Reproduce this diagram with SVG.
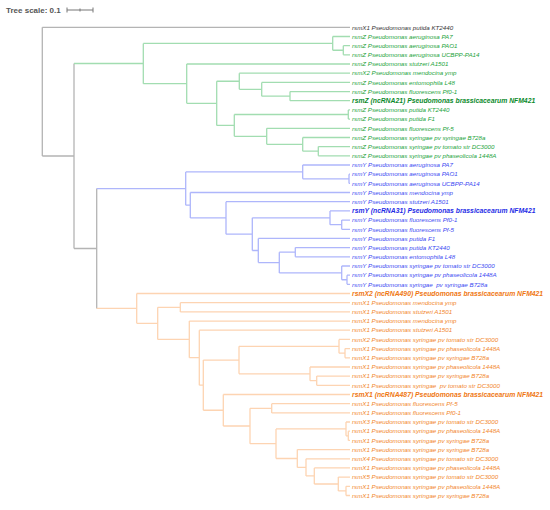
<svg xmlns="http://www.w3.org/2000/svg" width="550" height="510" viewBox="0 0 550 510">
<style>
text{font-family:"Liberation Sans",Arial,sans-serif;font-style:italic;font-size:6.2px}
.b{font-weight:bold;font-size:6.8px}
.k{fill:#333}.g{fill:#22a33a}.gb{fill:#0b8a2b}.u{fill:#3b49f2}.ub{fill:#1f2de6}.o{fill:#f2862a}.ob{fill:#ef7712}
.lk{stroke:#b4b4b4}.lg{stroke:#a2ddb1}.lu{stroke:#aeb6fb}.lo{stroke:#fdd4b2}
path{fill:none;stroke-width:1.3}
#scale text{font-style:normal;font-weight:bold;font-size:8px;fill:#555}
</style>
<rect width="550" height="510" fill="#fff"/>
<g id="scale">
<text x="6" y="13">Tree scale: 0.1</text>
<path d="M67,10H93M67,7.5V12.5M80,8.5V11.5M93,7.5V12.5" style="stroke:#777;stroke-width:1"/>
</g>
<g id="connectors">
<path class="lk" d="M42.3,27.3V156M42.3,27.3H350M42.3,156H74M74,63.5V248.5M74,248.5H96.7M96.7,188.55V308.4"/>
<path class="lg" d="M74,63.5H143.3M143.3,43.4V83.65M143.3,43.4H332.7M332.7,36.5V50.25M332.7,36.5H350M332.7,50.25H343.3M343.3,45.7V54.8M343.3,45.7H350M343.3,54.8H350M143.3,83.65H186.7M186.7,64V103.3M186.7,64H350M186.7,103.3H216.7M216.7,81.25V125.4M216.7,81.25H239.3M216.7,125.4H234.3M239.3,73.2V89.3M239.3,73.2H350M239.3,89.3H261.7M261.7,82.4V96.15M261.7,82.4H350M261.7,96.15H290M290,91.6V100.7M290,91.6H350M290,100.7H350M234.3,114.5V136.3M234.3,114.5H348.3M234.3,136.3H266.7M348.3,109.9V119.1M348.3,109.9H350M348.3,119.1H350M266.7,128.3V144.35M266.7,128.3H350M266.7,144.35H302.7M302.7,137.5V151.2M302.7,137.5H350M302.7,151.2H318.3M318.3,146.6V155.8M318.3,146.6H350M318.3,155.8H350"/>
<path class="lu" d="M96.7,188.55H185.7M185.7,171.9V205.2M185.7,171.9H302.7M185.7,205.2H190.3M302.7,165V178.8M302.7,165H350M302.7,178.8H349M349,174.2V183.4M349,174.2H350M349,183.4H350M190.3,192.5V217.9M190.3,192.5H350M190.3,217.9H226M226,201.7V234.15M226,201.7H350M226,234.15H252.3M252.3,217.8V250.5M252.3,217.8H330M252.3,250.5H258.3M330,210.9V224.7M330,210.9H350M330,224.7H341.7M341.7,220.1V229.3M341.7,220.1H350M341.7,229.3H350M258.3,238.4V262.55M258.3,238.4H350M258.3,262.55H279.3M279.3,252.2V272.9M279.3,252.2H295.3M279.3,272.9H341.7M295.3,247.6V256.8M295.3,247.6H350M295.3,256.8H350M341.7,266V279.75M341.7,266H350M341.7,279.75H347M347,275.2V284.3M347,275.2H350M347,284.3H350"/>
<path class="lo" d="M96.7,308.4H136.7M136.7,293.5V323.35M136.7,293.5H350M136.7,323.35H157.7M157.7,307.3V339.4M157.7,307.3H180.3M157.7,339.4H189.3M180.3,302.7V311.9M180.3,302.7H350M180.3,311.9H350M189.3,321.1V357.7M189.3,321.1H350M189.3,357.7H199.3M199.3,330.2V385.2M199.3,330.2H350M199.3,385.2H203.3M203.3,360.1V410.25M203.3,360.1H239M203.3,410.25H223.3M239,346.3V373.85M239,346.3H339M239,373.85H310M339,339.4V353.2M339,339.4H350M339,353.2H345M345,348.6V357.8M345,348.6H350M345,357.8H350M310,367V380.7M310,367H350M310,380.7H316.7M316.7,376.1V385.3M316.7,376.1H350M316.7,385.3H350M223.3,394.5V426M223.3,394.5H350M223.3,426H250M250,408.3V443.7M250,408.3H271.7M250,443.7H276M271.7,403.7V412.9M271.7,403.7H350M271.7,412.9H350M276,428.9V458.5M276,428.9H346M276,458.5H297.3M346,422V435.8M346,422H350M346,435.8H348.3M348.3,431.2V440.4M348.3,431.2H350M348.3,440.4H350M297.3,449.6V467.4M297.3,449.6H350M297.3,467.4H306M306,458.8V475.95M306,458.8H350M306,475.95H314.3M314.3,467.9V484M314.3,467.9H350M314.3,484H338.3M338.3,477.1V490.9M338.3,477.1H350M338.3,490.9H346M346,486.3V495.5M346,486.3H350M346,495.5H350"/>
</g>
<g id="leaves">
<g id="n1"><text class="k" x="352" y="29.5">rsmX1 Pseudomonas putida KT2440</text></g>
<g id="n2"><text class="g" x="352" y="38.7">rsmZ Pseudomonas aeruginosa PA7</text></g>
<g id="n3"><text class="g" x="352" y="47.9">rsmZ Pseudomonas aeruginosa PAO1</text></g>
<g id="n4"><text class="g" x="352" y="57">rsmZ Pseudomonas aeruginosa UCBPP-PA14</text></g>
<g id="n5"><text class="g" x="352" y="66.2">rsmZ Pseudomonas stutzeri A1501</text></g>
<g id="n6"><text class="g" x="352" y="75.4">rsmX2 Pseudomonas mendocina ymp</text></g>
<g id="n7"><text class="g" x="352" y="84.6">rsmZ Pseudomonas entomophila L48</text></g>
<g id="n8"><text class="g" x="352" y="93.8">rsmZ Pseudomonas fluorescens Pf0-1</text></g>
<g id="n9"><text class="gb b" x="352" y="103.1">rsmZ (ncRNA21) Pseudomonas brassicacearum NFM421</text></g>
<g id="n10"><text class="g" x="352" y="112.1">rsmZ Pseudomonas putida KT2440</text></g>
<g id="n11"><text class="g" x="352" y="121.3">rsmZ Pseudomonas putida F1</text></g>
<g id="n12"><text class="g" x="352" y="130.5">rsmZ Pseudomonas fluorescens Pf-5</text></g>
<g id="n13"><text class="g" x="352" y="139.7">rsmZ Pseudomonas syringae pv syringae B728a</text></g>
<g id="n14"><text class="g" x="352" y="148.8">rsmZ Pseudomonas syringae pv tomato str DC3000</text></g>
<g id="n15"><text class="g" x="352" y="158">rsmZ Pseudomonas syringae pv phaseolicola 1448A</text></g>
<g id="n16"><text class="u" x="352" y="167.2">rsmY Pseudomonas aeruginosa PA7</text></g>
<g id="n17"><text class="u" x="352" y="176.4">rsmY Pseudomonas aeruginosa PAO1</text></g>
<g id="n18"><text class="u" x="352" y="185.6">rsmY Pseudomonas aeruginosa UCBPP-PA14</text></g>
<g id="n19"><text class="u" x="352" y="194.7">rsmY Pseudomonas mendocina ymp</text></g>
<g id="n20"><text class="u" x="352" y="203.9">rsmY Pseudomonas stutzeri A1501</text></g>
<g id="n21"><text class="ub b" x="352" y="213.3">rsmY (ncRNA31) Pseudomonas brassicacearum NFM421</text></g>
<g id="n22"><text class="u" x="352" y="222.3">rsmY Pseudomonas fluorescens Pf0-1</text></g>
<g id="n23"><text class="u" x="352" y="231.5">rsmY Pseudomonas fluorescens Pf-5</text></g>
<g id="n24"><text class="u" x="352" y="240.6">rsmY Pseudomonas putida F1</text></g>
<g id="n25"><text class="u" x="352" y="249.8">rsmY Pseudomonas putida KT2440</text></g>
<g id="n26"><text class="u" x="352" y="259">rsmY Pseudomonas entomophila L48</text></g>
<g id="n27"><text class="u" x="352" y="268.2">rsmY Pseudomonas syringae pv tomato str DC3000</text></g>
<g id="n28"><text class="u" x="352" y="277.4">rsmY Pseudomonas syringae pv phaseolicola 1448A</text></g>
<g id="n29"><text class="u" x="352" y="286.5" xml:space="preserve">rsmY Pseudomonas syringae  pv syringae B728a</text></g>
<g id="n30"><text class="ob b" x="352" y="295.9">rsmX2 (ncRNA490) Pseudomonas brassicacearum NFM421</text></g>
<g id="n31"><text class="o" x="352" y="304.9">rsmX1 Pseudomonas mendocina ymp</text></g>
<g id="n32"><text class="o" x="352" y="314.1">rsmX1 Pseudomonas stutzeri A1501</text></g>
<g id="n33"><text class="o" x="352" y="323.3">rsmX1 Pseudomonas mendocina ymp</text></g>
<g id="n34"><text class="o" x="352" y="332.4">rsmX1 Pseudomonas stutzeri A1501</text></g>
<g id="n35"><text class="o" x="352" y="341.6">rsmX2 Pseudomonas syringae pv tomato str DC3000</text></g>
<g id="n36"><text class="o" x="352" y="350.8">rsmX1 Pseudomonas syringae pv phaseolicola 1448A</text></g>
<g id="n37"><text class="o" x="352" y="360">rsmX1 Pseudomonas syringae pv syringae B728a</text></g>
<g id="n38"><text class="o" x="352" y="369.2">rsmX1 Pseudomonas syringae pv phaseolicola 1448A</text></g>
<g id="n39"><text class="o" x="352" y="378.3">rsmX1 Pseudomonas syringae pv syringae B728a</text></g>
<g id="n40"><text class="o" x="352" y="387.5" xml:space="preserve">rsmX1 Pseudomonas syringae  pv tomato str DC3000</text></g>
<g id="n41"><text class="ob b" x="352" y="396.9">rsmX1 (ncRNA487) Pseudomonas brassicacearum NFM421</text></g>
<g id="n42"><text class="o" x="352" y="405.9">rsmX1 Pseudomonas fluorescens Pf-5</text></g>
<g id="n43"><text class="o" x="352" y="415.1">rsmX1 Pseudomonas fluorescens Pf0-1</text></g>
<g id="n44"><text class="o" x="352" y="424.2">rsmX3 Pseudomonas syringae pv tomato str DC3000</text></g>
<g id="n45"><text class="o" x="352" y="433.4">rsmX1 Pseudomonas syringae pv phaseolicola 1448A</text></g>
<g id="n46"><text class="o" x="352" y="442.6">rsmX1 Pseudomonas syringae pv syringae B728a</text></g>
<g id="n47"><text class="o" x="352" y="451.8">rsmX1 Pseudomonas syringae pv syringae B728a</text></g>
<g id="n48"><text class="o" x="352" y="461">rsmX4 Pseudomonas syringae pv tomato str DC3000</text></g>
<g id="n49"><text class="o" x="352" y="470.1">rsmX1 Pseudomonas syringae pv phaseolicola 1448A</text></g>
<g id="n50"><text class="o" x="352" y="479.3">rsmX5 Pseudomonas syringae pv tomato str DC3000</text></g>
<g id="n51"><text class="o" x="352" y="488.5">rsmX1 Pseudomonas syringae pv phaseolicola 1448A</text></g>
<g id="n52"><text class="o" x="352" y="497.7">rsmX1 Pseudomonas syringae pv syringae B728a</text></g>
</g>
</svg>
